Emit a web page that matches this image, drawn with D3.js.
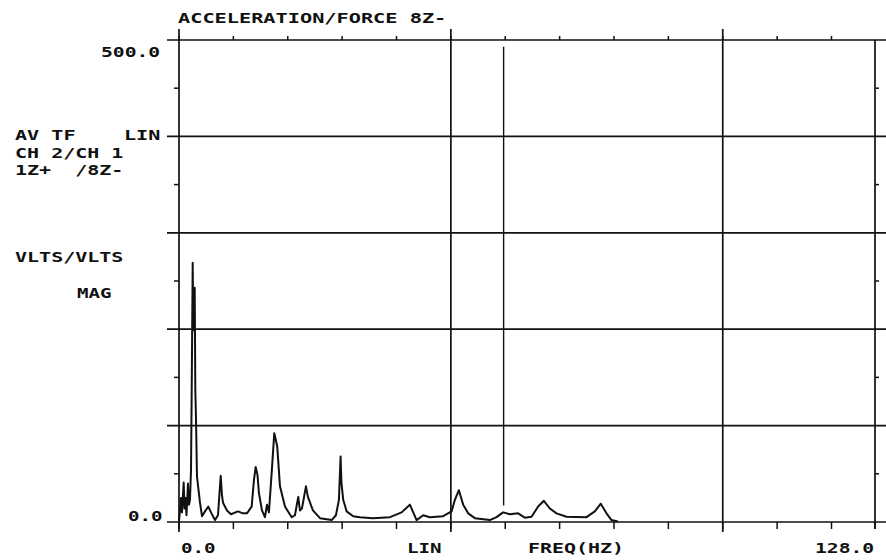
<!DOCTYPE html>
<html>
<head>
<meta charset="utf-8">
<script src="https://cdn.jsdelivr.net/npm/d3@7"></script>
<style>
  body { margin: 0; background: #fff; }
</style>
</head>
<body>
<div id="chart"></div>
<script>
// transfer function magnitude (Hz, VLTS/VLTS)
var freq = [0, 0.18, 0.37, 0.55, 0.86, 1.01, 1.19, 1.38, 1.65, 1.84, 2.02, 2.21, 2.35, 2.52, 2.63, 2.72, 2.89, 3.0, 3.13, 3.31,
            3.86, 4.23, 4.78, 5.39, 5.88, 6.62, 7.17, 7.67, 7.9, 8.09, 8.82, 9.56, 10.85, 11.76, 12.5, 13.36, 13.79, 14.1, 14.43, 14.7,
            15.26, 15.81, 16.18, 16.54, 17.04, 17.52, 17.74, 18.07, 18.57, 19.49, 20.72, 21.32, 21.93, 22.24, 22.61, 23.35, 23.71, 24.63, 25.92, 28.07,
            28.86, 29.41, 29.72, 29.87, 30.2, 30.83, 32.04, 33.27, 35.66, 38.79, 40.94, 42.46, 43.69, 44.91, 46.14, 48.58, 50.13, 50.74, 51.47, 52.26,
            53.18, 54.41, 57.17, 58.4, 59.61, 60.85, 62.37, 63.6, 64.83, 66.05, 67.1, 68.2, 69.43, 71.27, 74.94, 76.47, 77.57, 78.62, 79.54, 80.7];
var mag = [1, 12, 25, 10, 41, 14, 25, 7, 40, 18, 23, 54, 147, 269, 199, 230, 243, 137, 106, 47,
           20, 6, 11, 16, 10, 2, 7, 48, 28, 20, 12, 8, 11, 9, 9, 16, 44, 57, 49, 30,
           12, 5, 18, 10, 51, 92, 87, 78, 37, 16, 5, 7, 26, 12, 14, 37, 26, 12, 4, 2,
           7, 23, 68, 41, 23, 11, 6, 5, 4, 5, 10, 18, 2, 7, 5, 6, 11, 23, 33, 18,
           9, 4, 2, 5, 10, 8, 9, 4.5, 5.5, 16, 22, 14, 9, 5.5, 5, 11, 19, 9, 2, 0.5];

// cursor line
var cursorFreq = 59.7;
var cursorMag = [17, 493];

// grid and ticks
var yGrid = [0, 100, 200, 300, 400, 500];
var yMinor = [50, 150, 250, 350, 450];
var xGrid = [0, 50, 100];
var xTicks = [0, 10, 20, 30, 40, 50, 60, 70, 80, 90, 100, 110, 120];
var xMax = 128;

var svg = d3.select('#chart').append('svg')
    .attr('width', 886)
    .attr('height', 560);

var x = d3.scaleLinear().domain([0, xMax]).range([179, 875]);
var y = d3.scaleLinear().domain([0, 500]).range([522, 40]);

var ink = '#111';

// horizontal grid lines, plotter overshoot on both sides
svg.append('g').selectAll('line')
    .data(yGrid)
    .join('line')
    .attr('x1', 167).attr('x2', 886)
    .attr('y1', d => y(d)).attr('y2', d => y(d))
    .attr('stroke', ink).attr('stroke-width', 1.7);

// vertical grid lines
svg.append('g').selectAll('line')
    .data(xGrid)
    .join('line')
    .attr('x1', d => x(d)).attr('x2', d => x(d))
    .attr('y1', 29).attr('y2', 532)
    .attr('stroke', ink).attr('stroke-width', 1.7);

// right border
svg.append('line')
    .attr('x1', x(xMax)).attr('x2', x(xMax))
    .attr('y1', y(500)).attr('y2', 529)
    .attr('stroke', ink).attr('stroke-width', 1.7);

// bottom ticks
svg.append('g').selectAll('line')
    .data(xTicks.concat([xMax]))
    .join('line')
    .attr('x1', d => x(d)).attr('x2', d => x(d))
    .attr('y1', y(0)).attr('y2', y(0) + 7)
    .attr('stroke', ink).attr('stroke-width', 1.5);

// top ticks
svg.append('g').selectAll('line')
    .data(xTicks)
    .join('line')
    .attr('x1', d => x(d)).attr('x2', d => x(d))
    .attr('y1', y(500)).attr('y2', y(500) - 4)
    .attr('stroke', ink).attr('stroke-width', 1.5);

// minor ticks, left and right
svg.append('g').selectAll('line')
    .data(yMinor)
    .join('line')
    .attr('x1', x(0)).attr('x2', x(0) - 5)
    .attr('y1', d => y(d)).attr('y2', d => y(d))
    .attr('stroke', ink).attr('stroke-width', 1.5);
svg.append('g').selectAll('line')
    .data(yMinor)
    .join('line')
    .attr('x1', x(xMax)).attr('x2', x(xMax) + 4)
    .attr('y1', d => y(d)).attr('y2', d => y(d))
    .attr('stroke', ink).attr('stroke-width', 1.5);

// cursor
svg.append('line')
    .attr('x1', x(cursorFreq)).attr('x2', x(cursorFreq))
    .attr('y1', y(cursorMag[0])).attr('y2', y(cursorMag[1]))
    .attr('stroke', ink).attr('stroke-width', 1.4);

// the spectrum
var line = d3.line()
    .x((d, i) => x(freq[i]))
    .y(d => y(d));

svg.append('path')
    .datum(mag)
    .attr('d', line)
    .attr('fill', 'none')
    .attr('stroke', ink)
    .attr('stroke-width', 2)
    .attr('stroke-linejoin', 'round');

// plotter style text: monospace stretched to a 12.3px pitch
function label(str, lx, ly) {
    svg.append('text')
        .attr('x', lx)
        .attr('y', ly)
        .attr('font-family', 'DejaVu Sans Mono, monospace')
        .attr('font-size', '14px')
        .attr('font-weight', 'bold')
        .attr('fill', ink)
        .attr('textLength', (str.length - 1) * 12.3 + 10)
        .attr('lengthAdjust', 'spacingAndGlyphs')
        .style('white-space', 'pre')
        .text(str);
}

label('ACCELERATION/FORCE 8Z-', 178, 23);
label('500.0', 101, 57);
label('AV TF    LIN', 15, 140);
label('CH 2/CH 1', 15, 158);
label('1Z+  /8Z-', 15, 175);
label('VLTS/VLTS', 15, 262);
label('MAG', 77, 298);
label('0.0', 128, 521);
label('0.0', 181, 553);
label('LIN', 407, 553);
label('FREQ(HZ)', 528, 553);
label('128.0', 815, 553);
</script>
</body>
</html>
